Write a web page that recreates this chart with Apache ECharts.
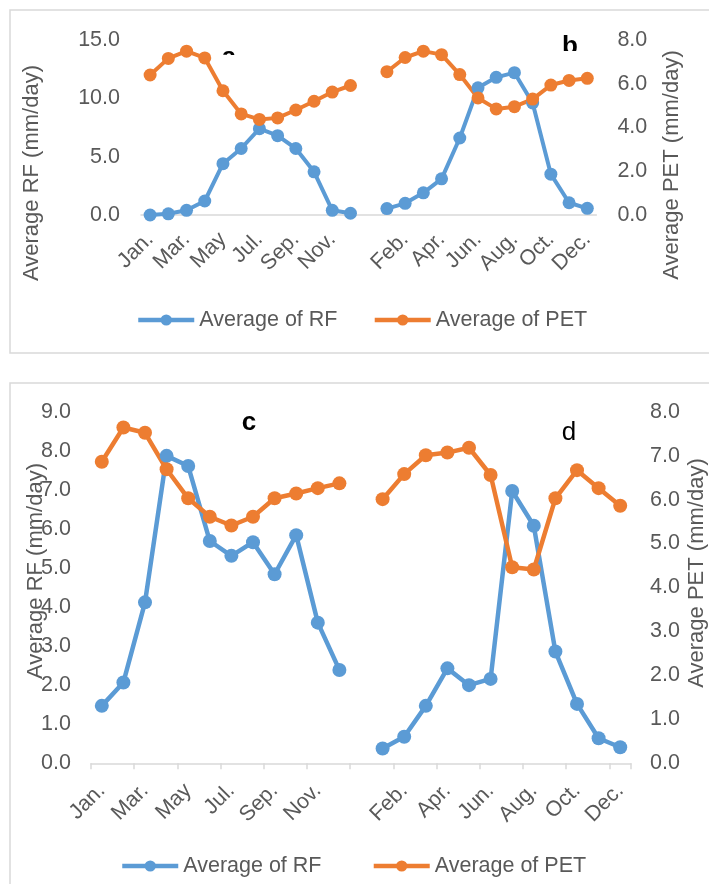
<!DOCTYPE html>
<html>
<head>
<meta charset="utf-8">
<script src="https://cdn.jsdelivr.net/npm/echarts@6/dist/echarts.min.js"></script>
<style>
  html, body { margin: 0; padding: 0; background: #fff; }
  #container { width: 709px; height: 884px; }
</style>
</head>
<body>
<div id="container"></div>
<script>
var months = ['Jan.','Feb.','Mar.','Apr.','May','Jun.','Jul.','Aug.','Sep.','Oct.','Nov.','Dec.'];
// two stations side by side, one empty slot between them
var categories = months.concat([''], months);

var rfA  = [0.0, 0.1, 0.4, 1.2, 4.4, 5.7, 7.4, 6.8, 5.7, 3.7, 0.4, 0.15];
var petA = [6.4, 7.16, 7.49, 7.18, 5.68, 4.62, 4.37, 4.44, 4.8, 5.2, 5.62, 5.92];
var rfB  = [0.55, 1.0, 1.9, 3.1, 6.6, 10.9, 11.8, 12.2, 9.6, 3.5, 1.05, 0.57];
var petB = [6.55, 7.2, 7.49, 7.33, 6.42, 5.35, 4.85, 4.95, 5.3, 5.94, 6.15, 6.25];

var rfC  = [1.47, 2.07, 4.12, 7.87, 7.61, 5.69, 5.31, 5.66, 4.84, 5.84, 3.6, 2.39];
var petC = [6.86, 7.64, 7.52, 6.69, 6.03, 5.61, 5.41, 5.61, 6.03, 6.14, 6.26, 6.37];
var rfD  = [0.38, 0.68, 1.47, 2.43, 2.0, 2.16, 6.97, 6.08, 2.86, 1.52, 0.64, 0.41];
var petD = [6.01, 6.58, 7.01, 7.07, 7.18, 6.56, 4.46, 4.41, 6.03, 6.67, 6.26, 5.86];

var blue = '#5B9BD5';
var orange = '#ED7D31';
var grey = '#595959';
var font = 'Liberation Sans, Arial, sans-serif';

function join(left, right) {
  return left.concat(['-'], right);
}

var dom = document.getElementById('container');
var myChart = echarts.init(dom, null, { renderer: 'canvas' });

function fmt(v) { return v.toFixed(1); }

function xAxisFor(gridIndex, ticks, margin) {
  return {
    type: 'category',
    gridIndex: gridIndex,
    data: categories,
    boundaryGap: true,
    axisLine: { show: true, lineStyle: { color: '#d9d9d9', width: 1.5 } },
    axisTick: { show: ticks, length: 6, lineStyle: { color: '#d9d9d9', width: 1.5 } },
    splitLine: { show: false },
    axisLabel: {
      interval: 1,
      rotate: 45,
      margin: margin,
      color: grey,
      fontSize: 21.5,
      fontFamily: font
    }
  };
}

function yAxisFor(gridIndex, pos, max, interval, margin) {
  return {
    type: 'value',
    gridIndex: gridIndex,
    position: pos,
    min: 0,
    max: max,
    interval: interval,
    axisLine: { show: false },
    axisTick: { show: false },
    splitLine: { show: false },
    axisLabel: {
      formatter: fmt,
      margin: margin,
      color: grey,
      fontSize: 21.5,
      fontFamily: font
    }
  };
}

function lineSeries(name, data, xi, yi, color, width, size) {
  return {
    name: name,
    type: 'line',
    xAxisIndex: xi,
    yAxisIndex: yi,
    data: data,
    symbol: 'circle',
    symbolSize: size,
    showAllSymbol: true,
    lineStyle: { color: color, width: width },
    itemStyle: { color: color },
    emphasis: { disabled: true }
  };
}

function axisTitle(text, x, y) {
  return {
    type: 'text',
    x: x,
    y: y,
    rotation: Math.PI / 2,
    z: 10,
    style: {
      text: text,
      x: 0,
      y: 0,
      align: 'center',
      verticalAlign: 'middle',
      fill: grey,
      font: '22px ' + font
    }
  };
}

function panelLetter(text, x, y, bold) {
  return {
    type: 'text',
    x: x,
    y: y,
    z: 10,
    style: {
      text: text,
      x: 0,
      y: 0,
      align: 'center',
      verticalAlign: 'top',
      fill: '#000',
      font: (bold ? 'bold ' : '') + '26px ' + font
    }
  };
}

function mask(x, y, w, h) {
  return {
    type: 'rect',
    z: 20,
    shape: { x: x, y: y, width: w, height: h },
    style: { fill: '#fff' }
  };
}

function frame(x, y, w, h) {
  return {
    type: 'rect',
    z: 0,
    shape: { x: x, y: y, width: w, height: h },
    style: { fill: null, stroke: '#d9d9d9', lineWidth: 1.5 }
  };
}

var legendText = { color: grey, fontSize: 21.5, fontFamily: font };

var option = {
  animation: false,
  backgroundColor: '#fff',
  grid: [
    { left: 141, top: 40, width: 455.4, height: 175, outerBoundsMode: 'none' },
    { left: 91, top: 411.7, width: 540, height: 351.6, outerBoundsMode: 'none' }
  ],
  xAxis: [xAxisFor(0, false, 21), xAxisFor(1, true, 24)],
  yAxis: [
    yAxisFor(0, 'left', 15, 5, 21),
    yAxisFor(0, 'right', 8, 2, 21),
    yAxisFor(1, 'left', 9, 1, 20),
    yAxisFor(1, 'right', 8, 1, 19)
  ],
  legend: [
    {
      left: 131, top: 304,
      itemWidth: 56, itemHeight: 14, itemGap: 35,
      lineStyle: { width: 4.5 },
      textStyle: legendText,
      data: ['Average of RF', 'Average of PET']
    },
    {
      left: 115, top: 850,
      itemWidth: 56, itemHeight: 14, itemGap: 50,
      lineStyle: { width: 4.5 },
      textStyle: legendText,
      data: ['Average of RF', 'Average of PET']
    }
  ],
  graphic: [
    frame(10, 10, 720, 343),
    frame(10, 383, 720, 520),
    axisTitle('Average RF (mm/day)', 32, 173),
    axisTitle('Average PET (mm/day)', 672, 165),
    axisTitle('Average RF (mm/day)', 36, 571),
    axisTitle('Average PET (mm/day)', 697, 573),
    panelLetter('a', 229, 45, true),
    mask(215, 55, 30, 15),
    panelLetter('b', 570, 34, true),
    mask(555, 51, 30, 16),
    panelLetter('c', 249, 410, true),
    panelLetter('d', 569, 420, false)
  ],
  series: [
    lineSeries('Average of RF', join(rfA, rfB), 0, 0, blue, 4, 13),
    lineSeries('Average of PET', join(petA, petB), 0, 1, orange, 4, 13),
    lineSeries('Average of RF', join(rfC, rfD), 1, 2, blue, 4.5, 14),
    lineSeries('Average of PET', join(petC, petD), 1, 3, orange, 4.5, 14)
  ]
};

myChart.setOption(option);
window.addEventListener('resize', myChart.resize);
</script>
</body>
</html>
